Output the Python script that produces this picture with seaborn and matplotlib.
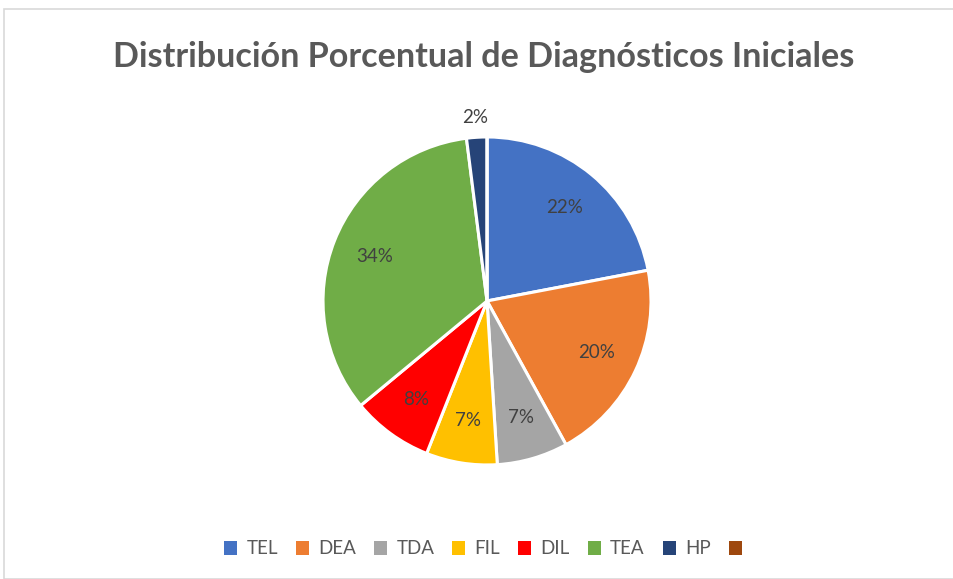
import matplotlib.pyplot as plt
import numpy as np
import seaborn as sns
from matplotlib.patches import Rectangle

# data
categories = ["TEL", "DEA", "TDA", "FIL", "DIL", "TEA", "HP", ""]
percentages = [22, 20, 7, 7, 8, 34, 2, 0]
colors = [
    "#4472C4",  # TEL
    "#ED7D31",  # DEA
    "#A5A5A5",  # TDA
    "#FFC000",  # FIL
    "#FF0000",  # DIL
    "#70AD47",  # TEA
    "#264478",  # HP
    "#9E480E",  # (empty)
]
TITLE = "Distribución Porcentual de Diagnósticos Iniciales"

TEXT_DARK = "#404040"
TEXT_GRAY = "#595959"

sns.set_theme(style="white")
plt.rcParams["font.family"] = ["Lato", "DejaVu Sans"]


def _autopct(pct: float) -> str:
    return "" if pct < 0.5 else f"{pct:.0f}%"


fig = plt.figure(figsize=(9.54, 5.79), dpi=100)
fig.patch.set_facecolor("white")

# light chart border like the spreadsheet chart area
fig.add_artist(
    Rectangle(
        (4 / 954, 0.0), 1.0, 1 - 9 / 579,
        transform=fig.transFigure, fill=False, edgecolor="#D9D9D9", linewidth=1.2,
    )
)

ax = fig.add_axes([0.3386, 0.1952, 0.3438, 0.5700])
wedges, texts, autotexts = ax.pie(
    percentages,
    colors=colors,
    startangle=90,
    counterclock=False,
    autopct=_autopct,
    pctdistance=0.74,
    wedgeprops={"edgecolor": "white", "linewidth": 2.2},
    textprops={"fontsize": 13.5, "color": TEXT_DARK},
)
ax.set_xlim(-1, 1)
ax.set_ylim(-1, 1)
ax.set_aspect("equal")

# small slice label goes outside the pie
for w, t, p in zip(wedges, autotexts, percentages):
    if 0 < p < 5:
        mid = np.deg2rad((w.theta1 + w.theta2) / 2)
        t.set_position((1.12 * np.cos(mid), 1.12 * np.sin(mid)))

fig.text(
    0.507, 1 - 57 / 579, TITLE,
    ha="center", va="center", fontsize=24.6, fontweight="bold", color=TEXT_GRAY,
)

handles = [Rectangle((0, 0), 1, 1, facecolor=c, edgecolor="none") for c in colors]
fig.legend(
    handles, categories,
    loc="center", bbox_to_anchor=(0.511, 1 - 549 / 579), ncol=len(categories),
    frameon=False, fontsize=13.5, labelcolor=TEXT_GRAY,
    handlelength=0.7, handleheight=0.7, handletextpad=0.5, columnspacing=0.95,
)

fig.savefig("out.png", dpi=100, facecolor="white")
